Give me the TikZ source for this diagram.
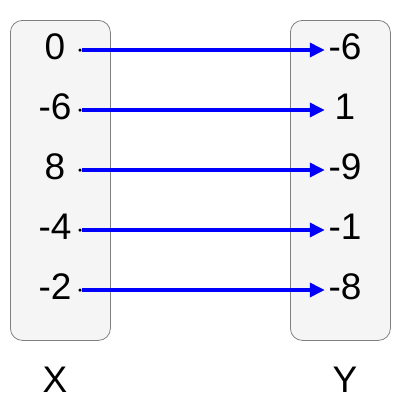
\documentclass[tikz,border=0pt]{standalone}
\usepackage{fontspec}
\setmainfont{Liberation Sans}
\usetikzlibrary{arrows.meta}

\begin{document}
\begin{tikzpicture}[x=1pt, y=-1pt,
    set/.style={draw=black!50, fill=black!4, rounded corners=12pt, line width=0.8pt},
    num/.style={font=\fontsize{37}{40}\selectfont, inner sep=0pt, minimum width=40pt},
    dot/.style={circle, fill=black, inner sep=0pt, minimum size=3.5pt},
    map/.style={-{Triangle[length=15pt,width=14pt]}, blue, line width=3.5pt}]
    \useasboundingbox (0, 0) rectangle (400, 400);
    \path (10, 20) node [set, minimum width=100pt, minimum height=320pt, anchor=north west] (sx) {};
    \path (290, 20) node [set, minimum width=100pt, minimum height=320pt, anchor=north west] (sy) {};
    \path (55, 47) node [num] (x1) {0};
    \path (55, 107) node [num] (x2) {-6};
    \path (55, 167) node [num] (x3) {8};
    \path (55, 227) node [num] (x4) {-4};
    \path (55, 287) node [num] (x5) {-2};
    \path (345, 47) node [num] (y1) {-6};
    \path (345, 107) node [num] (y2) {1};
    \path (345, 167) node [num] (y3) {-9};
    \path (345, 227) node [num] (y4) {-1};
    \path (345, 287) node [num] (y5) {-8};
    \path (80, 50) node [dot] (d1) {} (80, 110) node [dot] (d2) {} (80, 170) node [dot] (d3) {}
          (80, 230) node [dot] (d4) {} (80, 290) node [dot] (d5) {};
    \draw [map] (d1) -- (d1 -| y1.west);
    \draw [map] (d2) -- (d2 -| y2.west);
    \draw [map] (d3) -- (d3 -| y3.west);
    \draw [map] (d4) -- (d4 -| y4.west);
    \draw [map] (d5) -- (d5 -| y5.west);
    \path (55, 380) node [num] (lx) {X};
    \path (345, 380) node [num] (ly) {Y};
\end{tikzpicture}
\end{document}
